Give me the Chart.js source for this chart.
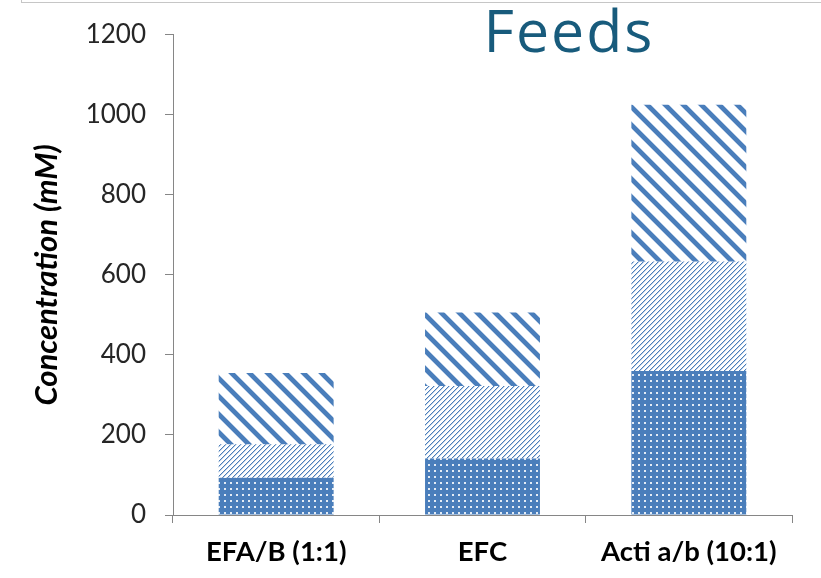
<!DOCTYPE html>
<html>
<head>
<meta charset="utf-8">
<title>Feeds</title>
<script src="https://cdn.jsdelivr.net/npm/chart.js@4.4.1/dist/chart.umd.min.js"></script>
<style>
  html, body { margin: 0; padding: 0; background: #fff; }
  #wrap { position: relative; width: 821px; height: 578px; overflow: hidden; }
  #frame { position: absolute; left: 21px; top: -10px; width: 820px; height: 12px;
           border-left: 1px solid #c6c6c6; border-bottom: 1px solid #c6c6c6; }
</style>
</head>
<body>
<div id="wrap">
  <canvas id="chart" width="821" height="578"></canvas>
  <div id="frame"></div>
</div>
<script>
// Chart data (stacked segments, mM)
const titleText = 'Feeds';
const categories = ['EFA/B (1:1)', 'EFC', 'Acti a/b (10:1)'];
const bottomPart = [93, 141, 360];
const middlePart = [84, 181, 273];
const topPart = [178, 184, 392];
const yTicks = [0, 200, 400, 600, 800, 1000, 1200];

const BLUE = '#4A7EBB';
const canvas = document.getElementById('chart');
const ctx = canvas.getContext('2d');

// build a repeating fill from a small tile
function makePattern(size, draw) {
    const tile = document.createElement('canvas');
    tile.width = size;
    tile.height = size;
    draw(tile.getContext('2d'), size);
    return ctx.createPattern(tile, 'repeat');
}

// solid blue with small white dots
const dotted = makePattern(6, (g, n) => {
    g.fillStyle = BLUE;
    g.fillRect(0, 0, n, n);
    g.fillStyle = 'rgba(255,255,255,0.85)';
    g.fillRect(2, 2, 2, 2);
});

// thin upward diagonals
const lightUp = makePattern(5, (g, n) => {
    g.fillStyle = BLUE;
    for (let i = 0; i < n; i++) g.fillRect(i, n - 1 - i, 1, 1);
    g.globalAlpha = 0.35;
    for (let i = 0; i < n; i++) g.fillRect((i + 1) % n, n - 1 - i, 1, 1);
});

// wide downward diagonals
const wideDown = makePattern(18, (g, n) => {
    g.fillStyle = BLUE;
    for (let y = 0; y < n; y++) {
        for (let k = 0; k < 6; k++) g.fillRect((y + k) % n, y, 1, 1);
    }
    g.globalAlpha = 0.4;
    for (let y = 0; y < n; y++) {
        g.fillRect((y + n - 1) % n, y, 1, 1);
        g.fillRect((y + 6) % n, y, 1, 1);
    }
});

const titlePlugin = {
    id: 'slideTitle',
    afterDraw(chart) {
        const c = chart.ctx;
        c.save();
        c.font = '400 59px "Open Sans"';
        c.letterSpacing = '2px';
        c.fillStyle = '#185B7C';
        c.textAlign = 'center';
        c.textBaseline = 'alphabetic';
        c.fillText(titleText, 569, 52);
        c.restore();
    }
};

const axisGray = '#868686';

new Chart(ctx, {
    type: 'bar',
    data: {
        labels: categories,
        datasets: [
            { label: 'Part 1', data: bottomPart, backgroundColor: dotted },
            { label: 'Part 2', data: middlePart, backgroundColor: lightUp },
            { label: 'Part 3', data: topPart, backgroundColor: wideDown },
        ],
    },
    options: {
        responsive: false,
        animation: false,
        layout: { padding: { top: 32, right: 29, bottom: 0, left: 0 } },
        datasets: {
            bar: { categoryPercentage: 1, barPercentage: 0.557, borderWidth: 0 }
        },
        plugins: {
            legend: { display: false },
            tooltip: { enabled: false }
        },
        scales: {
            x: {
                stacked: true,
                afterFit: (s) => { s.height = 63; },
                ticks: {
                    color: '#000',
                    font: { family: 'Lato', size: 27.5, weight: 'bold' },
                    padding: 13,
                    maxRotation: 0,
                    autoSkip: false
                },
                grid: { drawOnChartArea: false, tickLength: 8, color: axisGray, offset: true },
                border: { color: axisGray }
            },
            y: {
                stacked: true,
                min: 0,
                max: 1200,
                afterBuildTicks: (s) => { s.ticks = yTicks.map(v => ({ value: v })); },
                afterFit: (s) => { s.width = 173; },
                ticks: {
                    color: '#262626',
                    font: { family: 'Lato', size: 26 },
                    padding: 19,
                    callback: (v) => String(v)
                },
                grid: { drawOnChartArea: false, tickLength: 8, color: axisGray },
                border: { color: axisGray },
                title: {
                    display: true,
                    text: 'Concentration (mM)',
                    color: '#000',
                    font: { family: 'Lato', size: 31, weight: 'bold', style: 'italic' },
                    padding: { top: 28 }
                }
            }
        }
    },
    plugins: [titlePlugin]
});
</script>
</body>
</html>
